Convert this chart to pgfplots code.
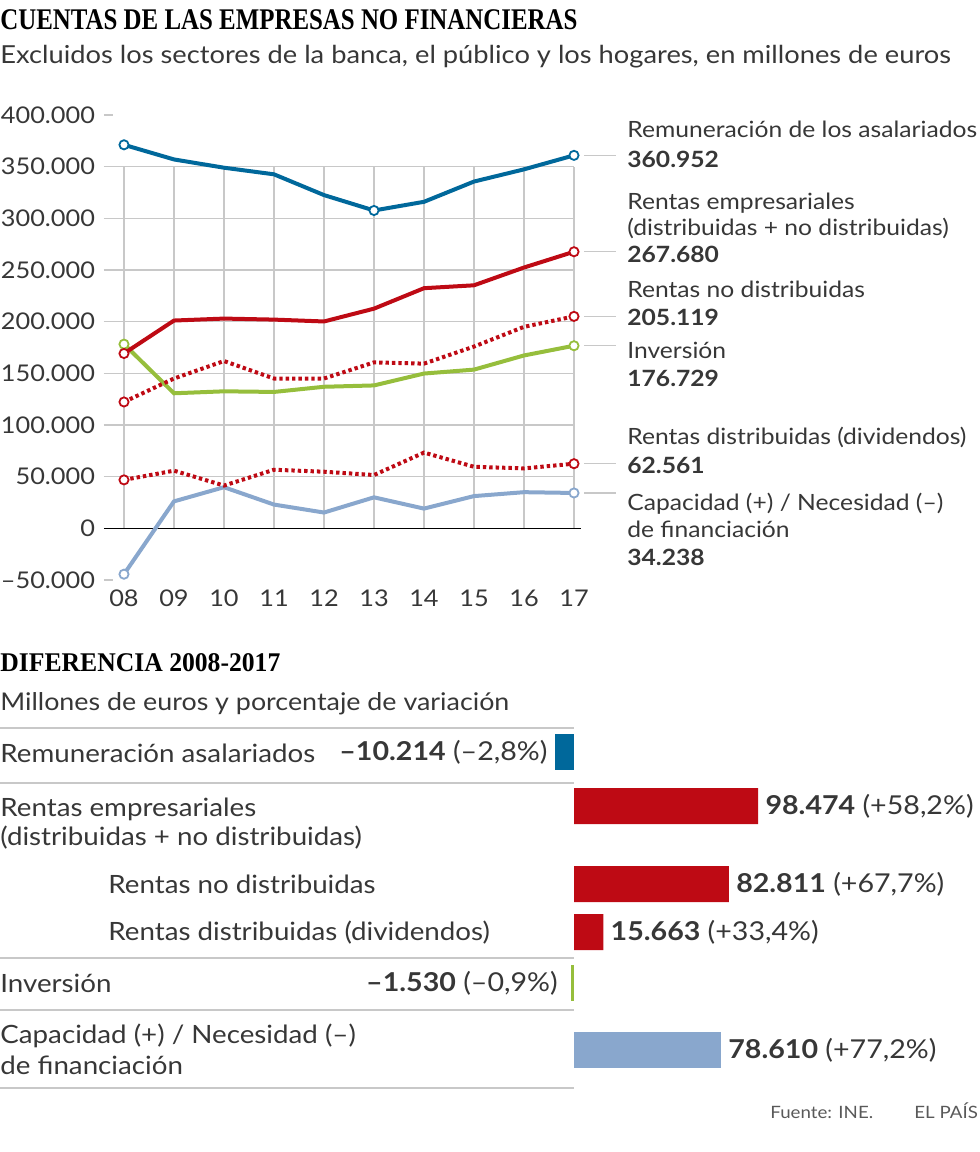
\documentclass[border=0pt]{standalone}
\usepackage{fontspec}
\usepackage{pgfplots}
\pgfplotsset{compat=1.18}
\setmainfont{Lato}[FakeStretch=1.1]
\newfontfamily\titlefont[FakeStretch=0.83]{Liberation Serif}
\newfontfamily\subtitlefont[FakeStretch=0.95]{Liberation Serif}

\definecolor{remblue}{RGB}{0,104,155}
\definecolor{rentred}{RGB}{190,10,20}
\definecolor{invgreen}{RGB}{150,190,60}
\definecolor{capblue}{RGB}{137,167,205}
\definecolor{gridgray}{RGB}{200,200,200}
\definecolor{textgray}{RGB}{55,55,55}

\newcommand{\lbl}{\fontsize{11.2}{13}\selectfont}
\newcommand{\blbl}{\fontsize{12.6}{14}\selectfont}

\begin{document}
\begin{tikzpicture}
\path[use as bounding box] (0,0) rectangle (490pt,-576pt);

% ---- top chart: lines
\begin{axis}[
  at={(52pt,-290pt)}, anchor=south west,
  scale only axis, width=238.5pt, height=232.5pt,
  xmin=2007.6, xmax=2017.14, ymin=-50000, ymax=400000,
  axis line style={draw=none}, clip=false,
  scaled y ticks=false,
  xtick={2008,2009,2010,2011,2012,2013,2014,2015,2016,2017},
  xticklabels={08,09,10,11,12,13,14,15,16,17},
  ytick={-50000,0,50000,100000,150000,200000,250000,300000,350000,400000},
  yticklabels={–50.000,0,50.000,100.000,150.000,200.000,250.000,300.000,350.000,400.000},
  tick align=inside, tick pos=left,
  xtick style={draw=none},
  ytick style={draw=gridgray, line width=0.7pt},
  major tick length=4.5pt,
  tick label style={font=\fontsize{11.5}{13}\selectfont, text=textgray},
  yticklabel style={xshift=-1pt},
  xticklabel style={yshift=-1.5pt},
  mark size=2.3pt,
]
\pgfplotsinvokeforeach{50000,100000,150000,200000,250000,300000,350000}{
  \draw[gridgray, line width=0.7pt] (axis cs:2007.6,#1) -- (axis cs:2017,#1);
}
\pgfplotsinvokeforeach{2008,2009,2010,2011,2012,2013,2014,2015,2016,2017}{
  \draw[gridgray, line width=0.7pt] (axis cs:#1,0) -- (axis cs:#1,350000);
}
\draw[black, line width=0.6pt] (axis cs:2007.6,0) -- (axis cs:2017.14,0);
% leader lines
\pgfplotsinvokeforeach{360952,267680,205119,176729,62561,34238}{
  \draw[gridgray, line width=0.7pt] (axis cs:2017.2,#1) -- (axis cs:2017.84,#1);
}

\addplot[capblue, line width=2pt, mark=*, mark indices={1,10},
  mark options={fill=white, line width=0.9pt}] coordinates {
(2008,-44372) (2009,26100) (2010,39800) (2011,23000) (2012,15300)
(2013,30000) (2014,19100) (2015,31200) (2016,35000) (2017,34238)};
\addplot[rentred, line width=2pt, dash pattern=on 1.7pt off 1.5pt, mark=*, mark indices={1,10},
  mark options={fill=white, line width=0.9pt, solid}] coordinates {
(2008,46898) (2009,55800) (2010,41400) (2011,56700) (2012,54800)
(2013,51600) (2014,73300) (2015,59600) (2016,58000) (2017,62561)};
\addplot[invgreen, line width=2pt, mark=*, mark indices={1,10},
  mark options={fill=white, line width=0.9pt}] coordinates {
(2008,178259) (2009,130700) (2010,132600) (2011,132000) (2012,137000)
(2013,138300) (2014,149800) (2015,153600) (2016,167300) (2017,176729)};
\addplot[rentred, line width=2pt, dash pattern=on 1.7pt off 1.5pt, mark=*, mark indices={1,10},
  mark options={fill=white, line width=0.9pt, solid}] coordinates {
(2008,122308) (2009,145000) (2010,161900) (2011,145000) (2012,145000)
(2013,160600) (2014,159400) (2015,175900) (2016,195000) (2017,205119)};
\addplot[rentred, line width=2pt, mark=*, mark indices={1,10},
  mark options={fill=white, line width=0.9pt}] coordinates {
(2008,169206) (2009,201100) (2010,203000) (2011,202000) (2012,200200)
(2013,212600) (2014,232400) (2015,235200) (2016,252400) (2017,267680)};
\addplot[remblue, line width=2pt, mark=*, mark indices={1,6,10},
  mark options={fill=white, line width=0.9pt}] coordinates {
(2008,371166) (2009,357000) (2010,349000) (2011,342600) (2012,322500)
(2013,307600) (2014,316000) (2015,335600) (2016,347400) (2017,360952)};
\end{axis}

% ---- bottom chart: bars (miles de euros)
\begin{axis}[
  at={(250pt,-360pt)}, anchor=north west,
  scale only axis, width=200pt, height=180pt,
  xmin=-39.572, xmax=174.33, ymin=720, ymax=1080, y dir=reverse,
  hide axis, clip=false,
  xbar, bar width=18pt, bar shift=0pt,
  point meta=explicit symbolic,
  nodes near coords,
  every node near coord/.append style={font=\fontsize{13}{15}\selectfont, text=textgray, inner sep=3.5pt},
]
\addplot[fill=remblue, draw=none, every node near coord/.append style={anchor=east}] coordinates {
(-10.214,752) [{\textbf{–10.214} (–2,8\%)}]};
\addplot[fill=rentred, draw=none, every node near coord/.append style={anchor=west}] coordinates {
(98.474,806) [{\textbf{98.474} (+58,2\%)}]
(82.811,884) [{\textbf{82.811} (+67,7\%)}]
(15.663,932) [{\textbf{15.663} (+33,4\%)}]};
\addplot[fill=invgreen, draw=none, every node near coord/.append style={anchor=east, xshift=-3pt}] coordinates {
(-1.530,983) [{\textbf{–1.530} (–0,9\%)}]};
\addplot[fill=capblue, draw=none, every node near coord/.append style={anchor=west}] coordinates {
(78.610,1050) [{\textbf{78.610} (+77,2\%)}]};
\end{axis}

\begin{scope}[x=0.5pt, y=-0.5pt, every node/.style={inner sep=0pt, anchor=base west, text=textgray}]
% titles
\node[text=black] at (0,29) {\titlefont\bfseries\fontsize{15}{17}\selectfont CUENTAS DE LAS EMPRESAS NO FINANCIERAS};
\node at (0,63) {\fontsize{12.4}{14}\selectfont Excluidos los sectores de la banca, el público y los hogares, en millones de euros};
% right labels
\node at (627,137) {\lbl Remuneración de los asalariados};
\node at (627,167) {\lbl\bfseries 360.952};
\node at (627,209) {\lbl Rentas empresariales};
\node at (627,235) {\lbl (distribuidas + no distribuidas)};
\node at (627,262) {\lbl\bfseries 267.680};
\node at (627,297) {\lbl Rentas no distribuidas};
\node at (627,325) {\lbl\bfseries 205.119};
\node at (627,358) {\lbl Inversión};
\node at (627,386) {\lbl\bfseries 176.729};
\node at (627,444) {\lbl Rentas distribuidas (dividendos)};
\node at (627,473) {\lbl\bfseries 62.561};
\node at (627,510) {\lbl Capacidad (+) / Necesidad (–)};
\node at (627,537) {\lbl de financiación};
\node at (627,565) {\lbl\bfseries 34.238};
% bottom section
\node[text=black] at (0,671) {\subtitlefont\bfseries\fontsize{13.5}{15}\selectfont DIFERENCIA 2008-2017};
\node at (0,710) {\fontsize{12.2}{14}\selectfont Millones de euros y porcentaje de variación};
\foreach \yy in {728,783,958,1010,1088}
  \draw[gridgray, line width=1pt] (0,\yy) -- (574,\yy);
\node at (0,762) {\blbl Remuneración asalariados};
\node at (0,816) {\blbl Rentas empresariales};
\node at (0,845) {\blbl (distribuidas + no distribuidas)};
\node at (108,893) {\blbl Rentas no distribuidas};
\node at (108,940) {\blbl Rentas distribuidas (dividendos)};
\node at (0,992) {\blbl Inversión};
\node at (0,1043) {\blbl Capacidad (+) / Necesidad (–)};
\node at (0,1074) {\blbl de financiación};
% footer
\node[text=black!65] at (770,1118) {\fontsize{8.5}{10}\selectfont Fuente: INE.};
\node[text=black!65] at (914,1118) {\fontsize{8.5}{10}\selectfont EL PAÍS};
\end{scope}
\end{tikzpicture}
\end{document}
